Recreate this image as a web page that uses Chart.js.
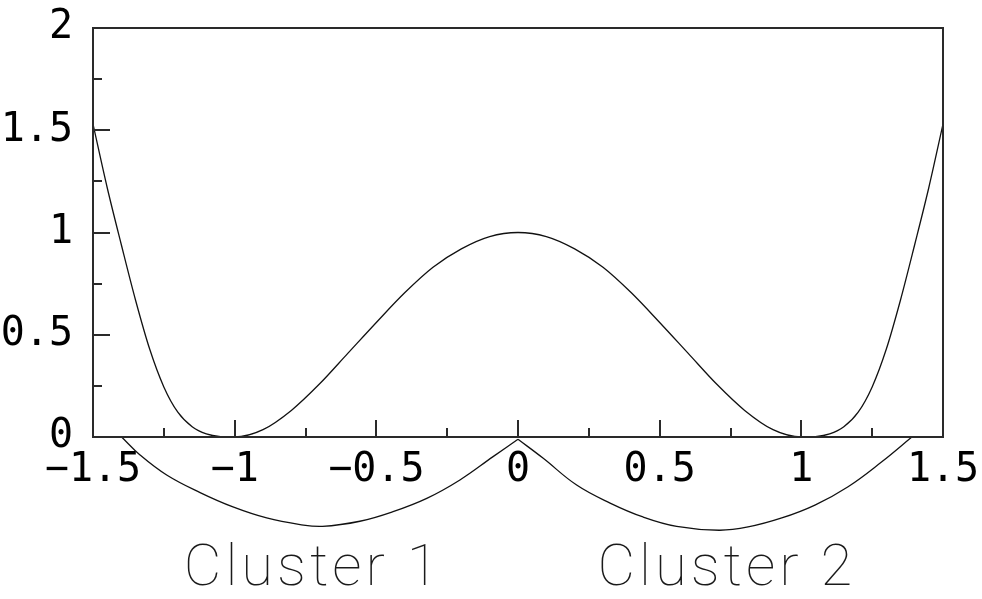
<!DOCTYPE html>
<html>
<head>
<meta charset="utf-8">
<script src="https://cdn.jsdelivr.net/npm/chart.js@4"></script>
<style>
  html, body { margin: 0; padding: 0; background: #fff; }
  #wrap { width: 982px; height: 599px; }
</style>
</head>
<body>
<div id="wrap"><canvas id="chart"></canvas></div>
<script>
// curve
var curveX = [-1.5, -1.45, -1.4, -1.35, -1.3, -1.25, -1.2, -1.15, -1.1, -1.05, -1,
    -0.9, -0.8, -0.7, -0.6, -0.5, -0.4, -0.3, -0.2, -0.1, 0,
    0.1, 0.2, 0.3, 0.4, 0.5, 0.6, 0.7, 0.8, 0.9,
    1, 1.05, 1.1, 1.15, 1.2, 1.25, 1.3, 1.35, 1.4, 1.45, 1.5];
var curveY = [1.53, 1.22, 0.94, 0.67, 0.43, 0.245, 0.12, 0.05, 0.015, 0.002, 0,
    0.036, 0.13, 0.26, 0.41, 0.56, 0.705, 0.83, 0.92, 0.98, 1,
    0.98, 0.92, 0.83, 0.705, 0.56, 0.41, 0.26, 0.13, 0.036,
    0, 0.002, 0.015, 0.05, 0.12, 0.245, 0.43, 0.67, 0.94, 1.22, 1.53];

// the two arcs under the axis
var cluster1X = [-1.399, -1.334, -1.24, -1.122, -1.006, -0.887, -0.769, -0.69,
    -0.558, -0.441, -0.322, -0.205, -0.088, 0];
var cluster1Y = [0, -0.088, -0.186, -0.272, -0.342, -0.396, -0.428, -0.437,
    -0.412, -0.365, -0.3, -0.21, -0.096, -0.011];
var cluster2X = [0, 0.088, 0.207, 0.325, 0.441, 0.56, 0.71,
    0.812, 0.931, 1.048, 1.165, 1.284, 1.39];
var cluster2Y = [-0.011, -0.103, -0.235, -0.323, -0.391, -0.437, -0.456,
    -0.44, -0.396, -0.333, -0.243, -0.121, 0];

var clusterNames = ['Cluster 1', 'Cluster 2'];
var clusterCenters = [-0.73, 0.73];

var xTicks = [-1.5, -1, -0.5, 0, 0.5, 1, 1.5];
var xTickLabels = ['\u22121.5', '\u22121', '\u22120.5', '0', '0.5', '1', '1.5'];
var yTicks = [0, 0.5, 1, 1.5, 2];
var yTickLabels = ['0', '0.5', '1', '1.5', '2'];

function toPoints(xs, ys) {
    var pts = [];
    for (var i = 0; i < xs.length; i++) {
        pts.push({ x: xs[i], y: ys[i] });
    }
    return pts;
}

function tickLabel(list, labels) {
    return function (value) {
        for (var i = 0; i < list.length; i++) {
            if (Math.abs(list[i] - value) < 1e-6) return labels[i];
        }
        return '';
    };
}

// frame + inward ticks + cluster names
var framePlugin = {
    id: 'frame',
    afterDraw: function (chart) {
        var ctx = chart.ctx;
        var a = chart.chartArea;
        var xs = chart.scales.x, ys = chart.scales.y;
        ctx.save();
        ctx.strokeStyle = '#2a2a2a';
        ctx.lineWidth = 2;
        ctx.strokeRect(a.left, a.top, a.right - a.left, a.bottom - a.top);
        ctx.beginPath();
        xs.ticks.forEach(function (t) {
            var px = Math.round(xs.getPixelForValue(t.value));
            var len = xTicks.indexOf(t.value) >= 0 ? 17 : 9;
            if (px <= a.left + 1 || px >= a.right - 1) return;
            ctx.moveTo(px, a.bottom);
            ctx.lineTo(px, a.bottom - len);
        });
        ys.ticks.forEach(function (t) {
            var py = Math.round(ys.getPixelForValue(t.value));
            var len = yTicks.indexOf(t.value) >= 0 ? 17 : 9;
            if (py <= a.top + 1 || py >= a.bottom - 1) return;
            ctx.moveTo(a.left, py);
            ctx.lineTo(a.left + len, py);
        });
        ctx.stroke();

        ctx.fillStyle = '#1a1a1a';
        ctx.font = '100 58px Roboto';
        ctx.letterSpacing = '4px';
        ctx.textAlign = 'center';
        ctx.textBaseline = 'alphabetic';
        for (var i = 0; i < clusterNames.length; i++) {
            ctx.fillText(clusterNames[i], xs.getPixelForValue(clusterCenters[i]) + 2, 585);
        }
        ctx.restore();
    }
};

var lineStyle = {
    borderColor: '#111',
    borderWidth: 1.3,
    pointRadius: 0,
    fill: false
};

new Chart(document.getElementById('chart'), {
    type: 'line',
    data: {
        datasets: [
            Object.assign({ data: toPoints(curveX, curveY), cubicInterpolationMode: 'monotone' }, lineStyle),
            Object.assign({ data: toPoints(cluster1X, cluster1Y), clip: false, tension: 0.4 }, lineStyle),
            Object.assign({ data: toPoints(cluster2X, cluster2Y), clip: false, tension: 0.4 }, lineStyle)
        ]
    },
    options: {
        responsive: true,
        maintainAspectRatio: false,
        animation: false,
        events: [],
        layout: { padding: { left: 0, right: 39, top: 28, bottom: 0 } },
        plugins: { legend: { display: false }, tooltip: { enabled: false } },
        scales: {
            x: {
                type: 'linear',
                min: -1.5,
                max: 1.5,
                grid: { display: false, drawTicks: false },
                border: { display: false },
                afterFit: function (scale) {
                    scale.height = 162;
                    scale.paddingLeft = 0;
                    scale.paddingRight = 0;
                },
                ticks: {
                    stepSize: 0.25,
                    autoSkip: false,
                    maxRotation: 0,
                    padding: 10,
                    color: '#000',
                    font: { family: 'DejaVu Sans Mono', size: 40 },
                    callback: tickLabel(xTicks, xTickLabels)
                }
            },
            y: {
                min: 0,
                max: 2,
                grid: { display: false, drawTicks: false },
                border: { display: false },
                afterFit: function (scale) {
                    scale.width = 93;
                    scale.paddingTop = 0;
                    scale.paddingBottom = 0;
                },
                ticks: {
                    stepSize: 0.25,
                    autoSkip: false,
                    padding: 20,
                    color: '#000',
                    font: { family: 'DejaVu Sans Mono', size: 40 },
                    callback: tickLabel(yTicks, yTickLabels)
                }
            }
        }
    },
    plugins: [framePlugin]
});
</script>
</body>
</html>
